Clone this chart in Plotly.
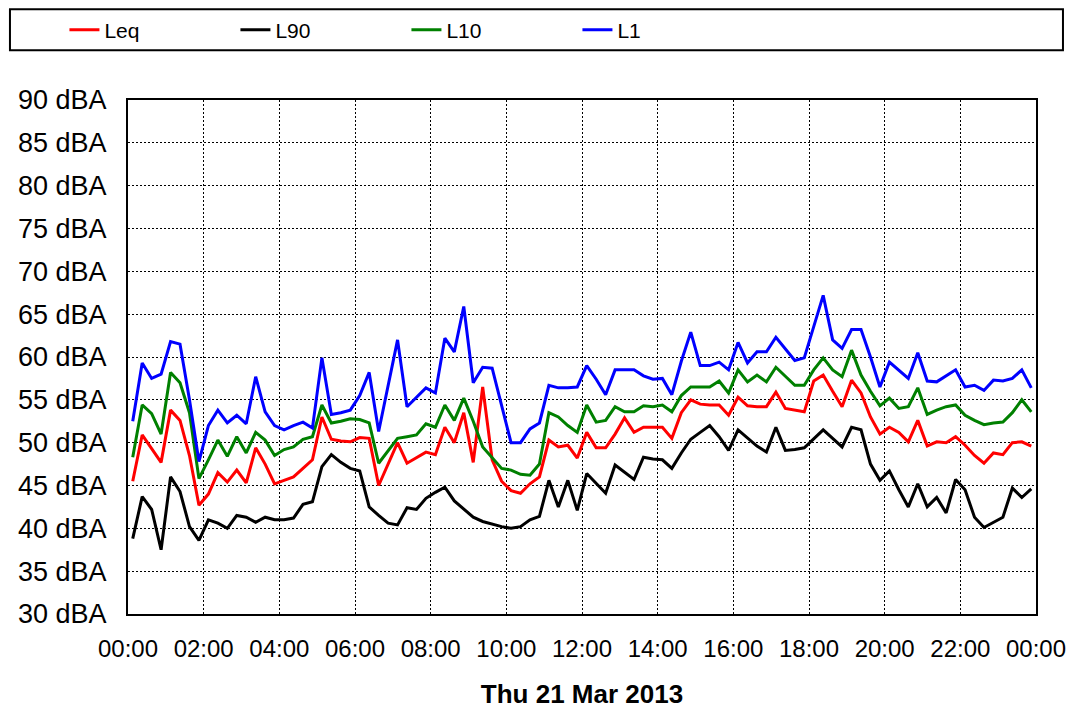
import pandas as pd
import plotly.graph_objects as go

# 15-minute interval values, plotted at interval centres
times = pd.date_range("2013-03-21 00:07:30", periods=96, freq="15min")

leq = [45.5, 50.9, 49.3, 47.7, 53.8, 52.6, 48.5, 42.7, 44.0, 46.5,
       45.4, 46.8, 45.3, 49.4, 47.5, 45.2, 45.6, 46.0, 47.0, 48.0,
       53.0, 50.4, 50.2, 50.1, 50.6, 50.5, 45.0, 47.5, 50.0, 47.6,
       48.3, 48.9, 48.6, 51.8, 50.0, 53.5, 47.7, 56.5, 48.0, 45.5,
       44.4, 44.1, 45.2, 46.0, 50.3, 49.5, 49.7, 48.2, 51.2, 49.4,
       49.4, 51.0, 52.9, 51.2, 51.8, 51.8, 51.8, 50.5, 53.5, 55.0,
       54.5, 54.4, 54.4, 53.2, 55.3, 54.3, 54.2, 54.2, 55.9, 54.0,
       53.8, 53.6, 57.2, 57.9, 56.0, 54.2, 57.3, 55.8, 53.0, 51.0,
       51.8, 51.2, 50.1, 52.6, 49.6, 50.1, 50.0, 50.7, 49.7, 48.5,
       47.6, 48.8, 48.6, 50.0, 50.1, 49.6]

l90 = [38.8, 43.7, 42.2, 37.5, 46.0, 44.3, 40.2, 38.6, 41.0, 40.6,
       40.0, 41.5, 41.3, 40.7, 41.3, 41.0, 41.0, 41.2, 42.8, 43.1,
       47.2, 48.6, 47.7, 47.0, 46.7, 42.5, 41.5, 40.6, 40.4, 42.4,
       42.2, 43.5, 44.2, 44.8, 43.2, 42.2, 41.3, 40.8, 40.5, 40.2,
       40.0, 40.2, 41.0, 41.4, 45.6, 42.5, 45.6, 42.1, 46.4, 45.2,
       44.1, 47.4, 46.5, 45.7, 48.3, 48.1, 48.0, 47.0, 48.8, 50.4,
       51.2, 52.0, 50.7, 49.1, 51.5, 50.6, 49.6, 48.9, 51.8, 49.1,
       49.2, 49.4, 50.5, 51.5, 50.5, 49.5, 51.8, 51.5, 47.5, 45.6,
       46.7, 44.5, 42.5, 45.2, 42.5, 43.6, 41.8, 45.7, 44.5, 41.3,
       40.1, 40.7, 41.3, 44.7, 43.6, 44.6]

l10 = [48.3, 54.4, 53.4, 51.0, 58.2, 57.0, 53.5, 45.8, 48.0, 50.3,
       48.4, 50.7, 48.8, 51.2, 50.3, 48.5, 49.2, 49.5, 50.4, 50.7,
       54.4, 52.3, 52.5, 52.8, 52.7, 52.3, 47.6, 49.0, 50.5, 50.7,
       50.9, 52.2, 51.8, 54.4, 52.6, 55.2, 52.5, 49.5, 48.2, 47.0,
       46.8, 46.3, 46.2, 47.5, 53.5, 53.0, 52.0, 51.2, 54.4, 52.4,
       52.6, 54.2, 53.6, 53.6, 54.3, 54.2, 54.4, 53.6, 55.5, 56.5,
       56.5, 56.5, 57.2, 55.8, 58.5, 57.1, 57.9, 57.1, 58.8, 57.7,
       56.7, 56.7, 58.5, 59.9, 58.5, 57.7, 60.8, 57.9, 56.0, 54.3,
       55.2, 54.0, 54.2, 56.4, 53.3, 53.8, 54.2, 54.4, 53.2, 52.6,
       52.1, 52.3, 52.4, 53.5, 55.0, 53.6]

l1 = [52.5, 59.3, 57.5, 58.0, 61.8, 61.5, 55.0, 47.8, 52.0, 53.8,
      52.3, 53.2, 52.2, 57.7, 53.6, 52.0, 51.5, 52.0, 52.4, 51.7,
      59.9, 53.3, 53.5, 53.8, 55.5, 58.2, 51.3, 56.5, 62.0, 54.2,
      55.3, 56.4, 55.8, 62.2, 60.6, 65.9, 57.0, 58.8, 58.7, 54.5,
      50.0, 50.0, 51.6, 52.3, 56.7, 56.4, 56.4, 56.5, 59.0, 57.4,
      55.6, 58.5, 58.5, 58.5, 57.8, 57.4, 57.5, 55.6, 59.5, 62.9,
      59.0, 59.0, 59.4, 58.5, 61.7, 59.3, 60.6, 60.6, 62.3, 61.0,
      59.6, 59.9, 63.5, 67.2, 62.0, 61.0, 63.2, 63.2, 60.0, 56.5,
      59.4, 58.5, 57.5, 60.5, 57.2, 57.1, 57.8, 58.5, 56.5, 56.7,
      56.1, 57.3, 57.2, 57.5, 58.5, 56.4]

series_names = ["Leq", "L90", "L10", "L1"]
series_values = [leq, l90, l10, l1]
series_colors = ["#ff0000", "#000000", "#008000", "#0000ff"]

y_ticks = list(range(30, 95, 5))
y_tick_labels = [f"{v} dBA" for v in y_ticks]
x_title = "Thu 21 Mar 2013"

FONT = "Liberation Sans, Arial, sans-serif"

fig = go.Figure()
for name, vals, col in zip(series_names, series_values, series_colors):
    fig.add_trace(go.Scatter(x=times, y=vals, name=name, mode="lines",
                             line=dict(color=col, width=3)))

fig.update_layout(
    width=1075, height=714,
    margin=dict(l=120, r=47, t=92, b=108, autoexpand=False),
    paper_bgcolor="white", plot_bgcolor="white",
    font=dict(family=FONT, color="#000000", size=21),
    showlegend=True,
    legend=dict(orientation="h", x=-0.070, xanchor="left",
                y=1.136, yanchor="middle",
                entrywidth=126, entrywidthmode="pixels",
                font=dict(size=21, family=FONT),
                bgcolor="rgba(0,0,0,0)", borderwidth=0),
    shapes=[dict(type="rect", xref="paper", yref="paper",
                 x0=-0.130, x1=1.0297, y0=1.097, y1=1.1765,
                 line=dict(color="black", width=2), layer="below")],
)

fig.update_xaxes(
    range=["2013-03-21 00:00", "2013-03-22 00:00"],
    dtick=2 * 3600 * 1000, tick0="2013-03-21 00:00", tickformat="%H:%M",
    showgrid=True, gridcolor="black", griddash="2px,2px", gridwidth=1,
    showline=True, linecolor="black", linewidth=2, mirror=True,
    ticks="", ticklabelstandoff=12, tickfont=dict(size=24, family=FONT),
    title=dict(text=x_title, font=dict(size=26, family=FONT, weight="bold"),
               standoff=24),
    zeroline=False,
)
fig.update_yaxes(
    range=[30, 90], tickvals=y_ticks, ticktext=y_tick_labels,
    showgrid=True, gridcolor="black", griddash="2px,2px", gridwidth=1,
    showline=True, linecolor="black", linewidth=2, mirror=True,
    ticks="", ticklabelstandoff=14, tickfont=dict(size=27, family=FONT),
    zeroline=False,
)

fig.write_html("out.html")
